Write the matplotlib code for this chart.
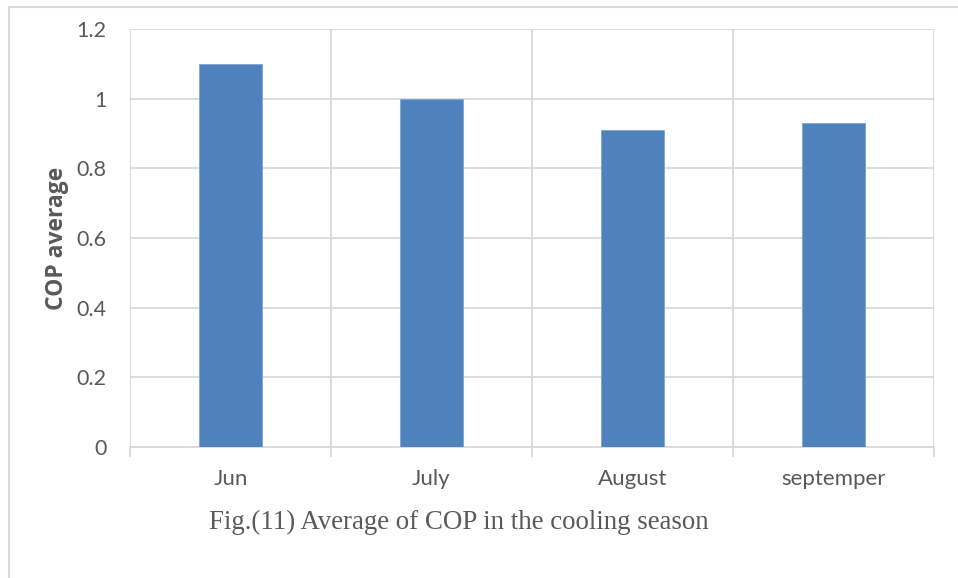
import matplotlib.pyplot as plt
from matplotlib.lines import Line2D
import numpy as np

# Average COP per month of the cooling season
months = ['Jun', 'July', 'August', 'septemper']
cop_avg = [1.10, 1.00, 0.91, 0.93]
y_ticks = [0, 0.2, 0.4, 0.6, 0.8, 1.0, 1.2]
y_tick_labels = ['0', '0.2', '0.4', '0.6', '0.8', '1', '1.2']

W, H = 958, 578
fig = plt.figure(figsize=(W / 100, H / 100), dpi=100)

grid_col = '#D9D9D9'
text_col = '#595959'

# plot area in pixels: left 130, right 934, top 29, bottom 447
ax = fig.add_axes([130 / W, 1 - 447 / H, 804 / W, (447 - 29) / H])

x = np.arange(len(months))
ax.bar(x, cop_avg, width=0.315, color='#4F81BD', edgecolor='#7FA3D3',
       linewidth=0.6, zorder=3)

ax.set_xlim(-0.5, len(months) - 0.5)
ax.set_ylim(0, 1.2)
ax.set_yticks(y_ticks)
ax.set_yticklabels(y_tick_labels)
ax.set_xticks(x)
ax.set_xticklabels(months)

# category boundaries get the vertical grid and the small ticks under the axis
bounds = np.arange(-0.5, len(months), 1.0)
ax.set_xticks(bounds, minor=True)
ax.grid(axis='y', color=grid_col, linewidth=1.3, zorder=0)
ax.grid(axis='x', which='minor', color=grid_col, linewidth=1.3, zorder=0)
ax.tick_params(axis='x', which='major', length=0, pad=16,
               labelsize=16, labelcolor=text_col)
ax.tick_params(axis='x', which='minor', length=7, width=1.3, color=grid_col)
ax.tick_params(axis='y', length=0, pad=17, labelsize=15.5, labelcolor=text_col)

for s in ['top', 'right', 'left']:
    ax.spines[s].set_visible(False)
ax.spines['bottom'].set_color(grid_col)
ax.spines['bottom'].set_linewidth(1.3)

for lbl in ax.get_xticklabels() + ax.get_yticklabels():
    lbl.set_family(['Lato', 'DejaVu Sans'])

ax.set_ylabel('COP average', fontsize=16.5, fontweight='bold', color=text_col,
              family=['Open Sans', 'DejaVu Sans'], labelpad=5)

# caption under the chart
fig.text(209 / W, 1 - 522 / H, 'Fig.(11) Average of COP in the cooling season',
         fontsize=19.4, family=['Liberation Serif', 'DejaVu Serif'],
         color=text_col, ha='left', va='center')

# frame lines on the left and top edge
fig.add_artist(Line2D([9 / W, 9 / W], [0, 1 - 7 / H], transform=fig.transFigure,
                      color=grid_col, linewidth=1.5))
fig.add_artist(Line2D([9 / W, 1], [1 - 7 / H, 1 - 7 / H], transform=fig.transFigure,
                      color=grid_col, linewidth=1.5))

fig.savefig('out.png', dpi=100, facecolor='white')
